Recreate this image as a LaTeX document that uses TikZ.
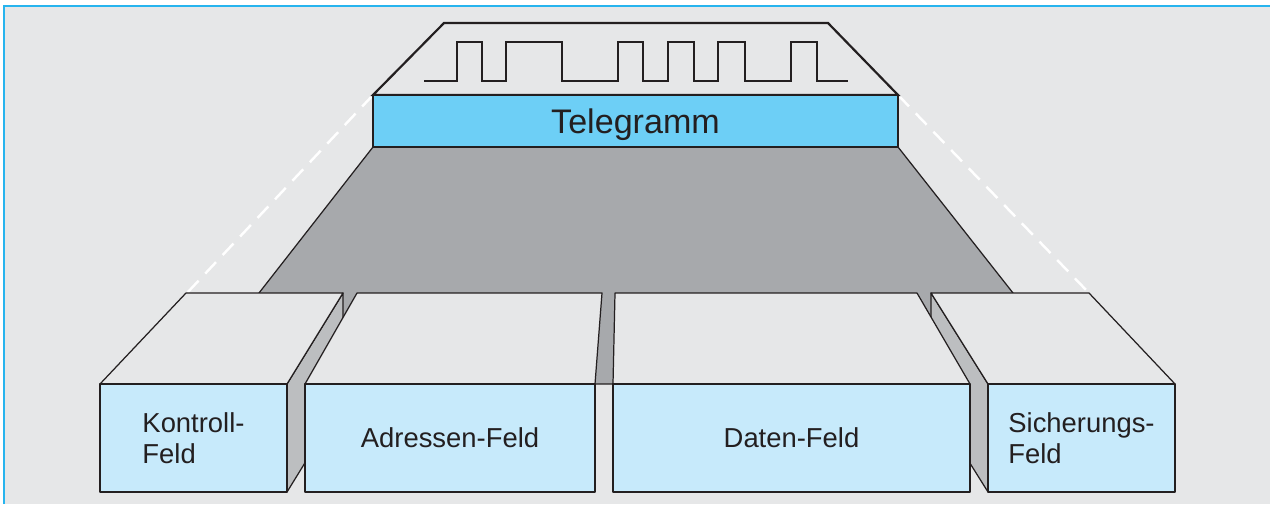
\documentclass[tikz,border=0pt]{standalone}
\usepackage{fontspec}
\setmainfont{Liberation Sans}
\definecolor{panel}{RGB}{230,231,232}
\definecolor{frameblue}{RGB}{39,180,238}
\definecolor{telblue}{RGB}{109,207,246}
\definecolor{fieldblue}{RGB}{199,234,251}
\definecolor{floorgray}{RGB}{167,169,172}
\definecolor{sidegray}{RGB}{188,190,192}
\definecolor{ink}{RGB}{35,31,32}

\begin{document}
\begin{tikzpicture}[x=0.02cm,y=-0.02cm,
  thinedge/.style={draw=ink,line width=0.7pt,line join=round},
  thickedge/.style={draw=ink,line width=1.25pt,line join=miter},
  fieldlabel/.style={text=ink,align=left,font=\fontsize{15.6}{17.8}\selectfont}]
\useasboundingbox (0,0) rectangle (1270,504);
\fill[panel] (4,6) rectangle (1270,504);
\draw[frameblue,line width=1.15pt] (4,504) -- (4,6) -- (1270,6);

\draw[white,line width=1.4pt,dash pattern=on 9pt off 5.5pt] (373,95) -- (187,293);
\draw[white,line width=1.4pt,dash pattern=on 9pt off 5.5pt] (898,95) -- (1089,293);

\filldraw[fill=floorgray,thinedge] (373,147) -- (898,147) -- (1013,293) -- (1013,384) -- (259,384) -- (259,293) -- cycle;

\filldraw[fill=panel,thickedge] (373,95) -- (444,23) -- (828,23) -- (898,95) -- cycle;
\draw[thickedge] (424,81) -- (457,81) -- (457,42) -- (482,42) -- (482,81) -- (506,81) -- (506,42) -- (562,42) -- (562,81) -- (618,81) -- (618,42) -- (643,42) -- (643,81) -- (668,81) -- (668,42) -- (694,42) -- (694,81) -- (718,81) -- (718,42) -- (745,42) -- (745,81) -- (791,81) -- (791,42) -- (817,42) -- (817,81) -- (848,81);
\filldraw[fill=telblue,thickedge] (373,95) rectangle (898,147);
\node[anchor=base,text=ink,font=\fontsize{19.4}{21}\selectfont] (telegramm) at (635.5,133) {Telegramm};

\filldraw[fill=sidegray,thinedge] (287,384) -- (343,293) -- (343,401) -- (287,492) -- cycle;
\filldraw[fill=panel,thinedge] (100,384) -- (186,293) -- (343,293) -- (287,384) -- cycle;
\filldraw[fill=fieldblue,thinedge] (100,384) rectangle (287,492);
\node[fieldlabel] (kontroll) at (193.5,438) {Kontroll-\\Feld};

\filldraw[fill=panel,thinedge] (305,384) -- (357,293) -- (602,293) -- (595,384) -- cycle;
\filldraw[fill=fieldblue,thinedge] (305,384) rectangle (595,492);
\node[fieldlabel] (adressen) at (450,438) {Adressen-Feld};

\filldraw[fill=sidegray,thinedge] (931,293) -- (988,384) -- (988,492) -- (931,401) -- cycle;
\filldraw[fill=panel,thinedge] (931,293) -- (1089,293) -- (1175,384) -- (988,384) -- cycle;
\filldraw[fill=fieldblue,thinedge] (988,384) rectangle (1175,492);
\node[fieldlabel] (sicherung) at (1081.5,438) {Sicherungs-\\Feld};

\filldraw[fill=panel,thinedge] (613,384) -- (615,293) -- (917,293) -- (970,384) -- cycle;
\filldraw[fill=fieldblue,thinedge] (613,384) rectangle (970,492);
\node[fieldlabel] (daten) at (791.5,438) {Daten-Feld};
\end{tikzpicture}
\end{document}
